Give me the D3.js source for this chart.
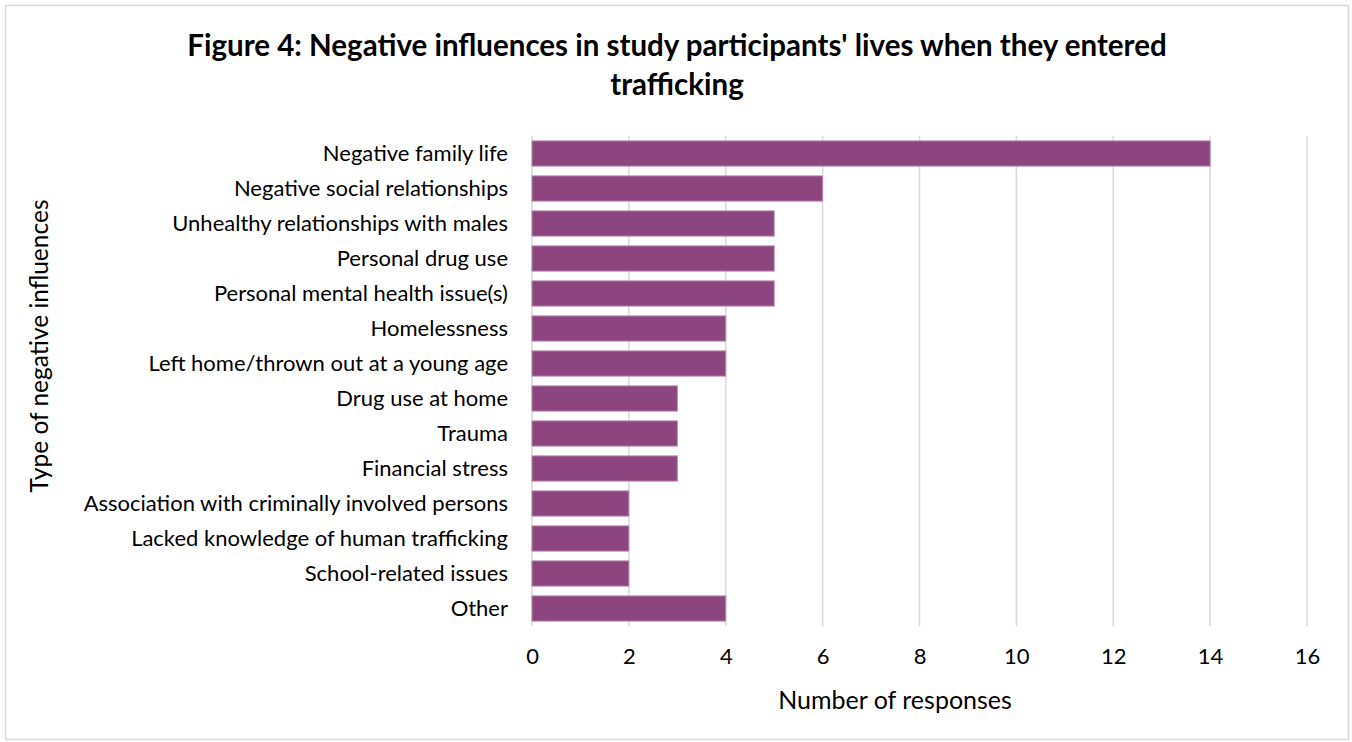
<!DOCTYPE html>
<html>
<head>
<meta charset="utf-8">
<script src="https://cdn.jsdelivr.net/npm/d3@7"></script>
<style>
  body { margin: 0; background: #fff; }
  text { font-family: Lato, "Open Sans", sans-serif; fill: #000; }
</style>
</head>
<body>
<div id="chart"></div>
<script>
// chart data
var categories = [
  "Negative family life",
  "Negative social relationships",
  "Unhealthy relationships with males",
  "Personal drug use",
  "Personal mental health issue(s)",
  "Homelessness",
  "Left home/thrown out at a young age",
  "Drug use at home",
  "Trauma",
  "Financial stress",
  "Association with criminally involved persons",
  "Lacked knowledge of human trafficking",
  "School-related issues",
  "Other"
];
var responses = [14, 6, 5, 5, 5, 4, 4, 3, 3, 3, 2, 2, 2, 4];
var xTicks = [0, 2, 4, 6, 8, 10, 12, 14, 16];

var svgWidth = 1352;
var svgHeight = 742;

var margin = { top: 136, right: 45, bottom: 116, left: 532 };
var width = svgWidth - margin.left - margin.right;
var height = svgHeight - margin.top - margin.bottom;

var svg = d3.select("#chart")
  .append("svg")
  .attr("width", svgWidth)
  .attr("height", svgHeight);

// outer frame
svg.append("rect")
  .attr("x", 5.5)
  .attr("y", 5.5)
  .attr("width", svgWidth - 9)
  .attr("height", svgHeight - 8)
  .attr("fill", "#fff")
  .attr("stroke", "#d9d9d9")
  .attr("stroke-width", 1.5);

var chartGroup = svg.append("g")
  .attr("transform", `translate(${margin.left}, ${margin.top})`);

var xScale = d3.scaleLinear()
  .domain([0, 16])
  .range([0, width]);

var yScale = d3.scaleBand()
  .domain(categories)
  .range([0, height])
  .paddingInner(0.28)
  .paddingOuter(0.14);

// gridlines
chartGroup.selectAll(".grid")
  .data(xTicks)
  .enter()
  .append("line")
  .attr("x1", d => xScale(d))
  .attr("x2", d => xScale(d))
  .attr("y1", 0)
  .attr("y2", height)
  .attr("stroke", "#d9d9d9")
  .attr("stroke-width", 1.5);

// bars
chartGroup.selectAll(".bar")
  .data(responses)
  .enter()
  .append("rect")
  .attr("x", xScale(0))
  .attr("y", (d, i) => yScale(categories[i]))
  .attr("width", d => xScale(d) - xScale(0))
  .attr("height", yScale.bandwidth())
  .attr("fill", "#8c457f")
  .attr("stroke", "#b98ab0")
  .attr("stroke-width", 1);

// x axis labels
var xAxis = d3.axisBottom(xScale)
  .tickValues(xTicks)
  .tickSize(0)
  .tickPadding(22);

chartGroup.append("g")
  .attr("transform", `translate(0, ${height})`)
  .call(xAxis)
  .call(g => g.select(".domain").remove())
  .selectAll("text")
  .style("font-family", "Lato, sans-serif")
  .style("font-size", "22px")
  .attr("fill", "#000");

// y axis labels
var yAxis = d3.axisLeft(yScale)
  .tickSize(0)
  .tickPadding(24);

chartGroup.append("g")
  .call(yAxis)
  .call(g => g.select(".domain").remove())
  .selectAll("text")
  .style("font-family", "Lato, sans-serif")
  .style("font-size", "22px")
  .attr("fill", "#000");

// axis titles
svg.append("text")
  .attr("x", 895)
  .attr("y", 709)
  .attr("text-anchor", "middle")
  .style("font-size", "25px")
  .text("Number of responses");

svg.append("text")
  .attr("transform", "translate(48, 346) rotate(-90)")
  .attr("text-anchor", "middle")
  .style("font-size", "24.5px")
  .text("Type of negative influences");

// title
var title = svg.append("text")
  .attr("text-anchor", "middle")
  .style("font-size", "29.5px")
  .style("font-weight", "bold");

title.append("tspan")
  .attr("x", 677)
  .attr("y", 56)
  .text("Figure 4: Negative influences in study participants' lives when they entered");

title.append("tspan")
  .attr("x", 677)
  .attr("y", 95)
  .text("trafficking");
</script>
</body>
</html>
